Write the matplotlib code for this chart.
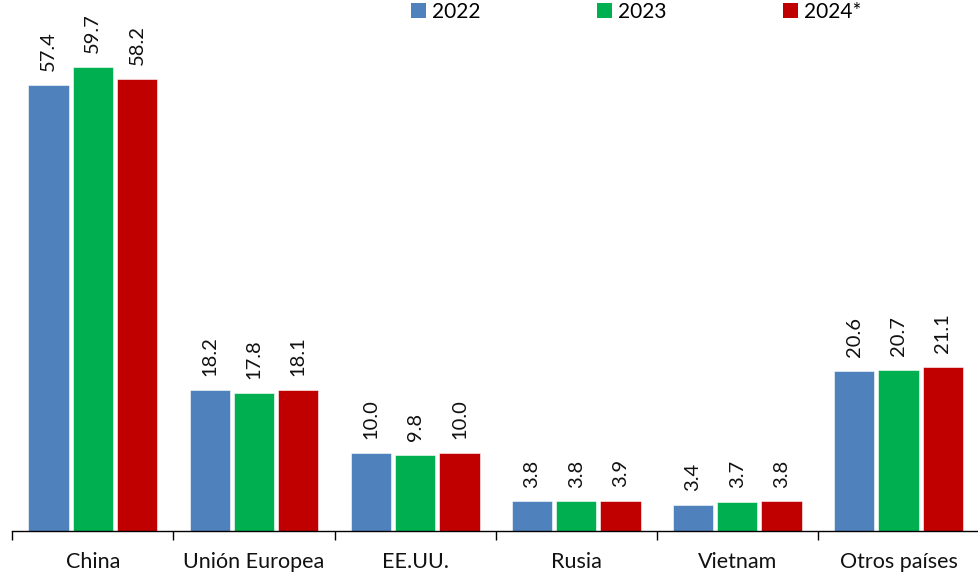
import numpy as np
import matplotlib.pyplot as plt
from matplotlib.patches import Patch

plt.rcParams['font.family'] = ['Lato', 'DejaVu Sans']

# Data
categories = ['China', 'Unión Europea', 'EE.UU.', 'Rusia', 'Vietnam', 'Otros países']
series_names = ['2022', '2023', '2024*']
v2022 = [57.4, 18.2, 10.0, 3.8, 3.4, 20.6]
v2023 = [59.7, 17.8, 9.8, 3.8, 3.7, 20.7]
v2024 = [58.2, 18.1, 10.0, 3.9, 3.8, 21.1]
colors = ['#4F81BD', '#00B050', '#C00000']

W, H = 979, 579
group_px = 162.2
fig = plt.figure(figsize=(W / 100, H / 100), dpi=100)
ax = fig.add_axes([12.3 / W, (H - 531) / H, (W - 12.3) / W, 531 / H])

x = np.arange(len(categories))
width = 0.25
step = 0.275
for i, (vals, col) in enumerate(zip([v2022, v2023, v2024], colors)):
    pos = x + (i - 1) * step
    ax.bar(pos, vals, width, color=col, edgecolor='white', linewidth=0.4)
    for p, v in zip(pos, vals):
        ax.annotate(f'{v:.1f}', (p, v), xytext=(0, 10), textcoords='offset points',
                    rotation=90, ha='center', va='bottom', fontsize=14.5, color='#111111')

ax.set_xlim(-0.5, (W - 12.3) / group_px - 0.5)
ax.set_ylim(0, 531 / 7.77)

for s in ['top', 'right', 'left']:
    ax.spines[s].set_visible(False)
ax.spines['bottom'].set_color('#000000')
ax.spines['bottom'].set_linewidth(1.0)
ax.set_yticks([])

ax.set_xticks(np.arange(-0.5, len(categories), 1.0))
ax.set_xticklabels([])
ax.tick_params(axis='x', direction='out', length=6.5, width=1, color='#000000')
ax.set_xticks(x, minor=True)
ax.set_xticklabels(categories, minor=True, fontsize=15.5, color='#111111')
ax.tick_params(axis='x', which='minor', length=0, pad=15)

handles = [Patch(facecolor=c, edgecolor='none') for c in colors]
fig.legend(handles, series_names, loc='upper left', bbox_to_anchor=(411 / W, 1 - 2 / H),
           ncol=3, frameon=False, fontsize=15, handlelength=0.7, handleheight=0.7,
           handletextpad=0.3, columnspacing=5.6, borderpad=0, borderaxespad=0)

plt.savefig('out.png', dpi=100)
